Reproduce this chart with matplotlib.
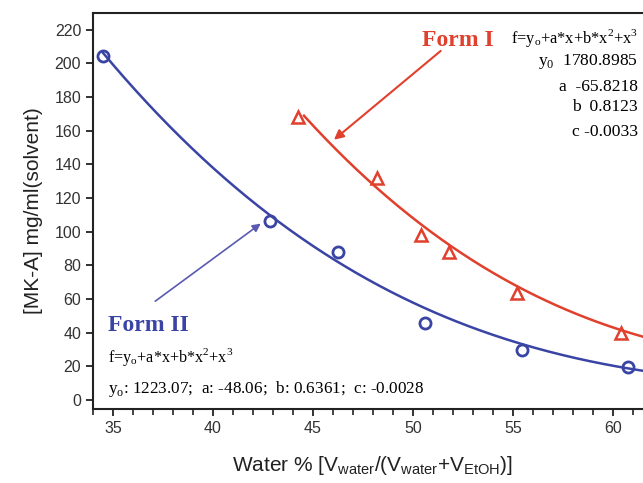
import numpy as np
import matplotlib.pyplot as plt
from matplotlib.ticker import MultipleLocator

plt.rcParams['mathtext.fontset'] = 'custom'
plt.rcParams['mathtext.rm'] = 'Liberation Serif'
plt.rcParams['mathtext.sf'] = 'Liberation Sans'

# Form II (circles)
water_II = [34.5, 42.85, 46.25, 50.6, 55.45, 60.75]
sol_II = [204.5, 106.4, 88.0, 45.8, 29.7, 19.6]

# Form I (triangles)
water_I = [44.25, 48.2, 50.4, 51.8, 55.2, 60.4]
sol_I = [168.3, 132.1, 98.1, 88.2, 63.8, 40.0]

# fit coefficients printed on the chart: y0, a, b, c
coef_I = [1780.8985, -65.8218, 0.8123, -0.0033]
coef_II = [1223.07, -48.06, 0.6361, -0.00282]

red = '#e0402c'
blue = '#3a44a4'

fig = plt.figure(figsize=(6.43, 4.83), dpi=100)
ax = fig.add_axes([93/643, 74/483, 560/643, 396/483])

def cubic(c, x):
    return c[0] + c[1]*x + c[2]*x**2 + c[3]*x**3

xf_I = np.linspace(water_I[0] + 0.3, 62, 200)
xf_II = np.linspace(water_II[0], 62, 200)
ax.plot(xf_II, cubic(coef_II, xf_II), color=blue, lw=1.8)
ax.plot(xf_I, cubic(coef_I, xf_I), color=red, lw=1.8)

ax.plot(water_II, sol_II, 'o', ms=8, mfc='none', mec=blue, mew=2)
ax.plot(water_I, sol_I, '^', ms=8, mfc='none', mec=red, mew=1.8)

ax.set_xlim(34, 62)
ax.set_ylim(-5.4, 230)
ax.set_yticks(np.arange(0, 221, 20))
ax.xaxis.set_major_locator(MultipleLocator(5))
ax.xaxis.set_minor_locator(MultipleLocator(1))
ax.spines['right'].set_visible(False)
for s in ['top', 'left', 'bottom']:
    ax.spines[s].set_linewidth(1.5)
    ax.spines[s].set_color('#222222')
ax.tick_params(which='major', length=5, width=1.3, color='#222222',
               labelsize=11.5, labelcolor='#333333')
ax.tick_params(which='minor', length=4, width=1.2, color='#222222')
for lab in ax.get_xticklabels() + ax.get_yticklabels():
    lab.set_fontfamily('Liberation Sans')

ax.set_ylabel('[MK-A] mg/ml(solvent)', fontsize=15, fontfamily='Liberation Sans',
              color='#222222', labelpad=8)
ax.set_xlabel(r'Water % [V$_\mathsf{water}$/(V$_\mathsf{water}$+V$_\mathsf{EtOH}$)]',
              fontsize=15, fontfamily='Liberation Sans', color='#222222', labelpad=13)

serif = 'Liberation Serif'
eq = r'f=y$_\mathrm{o}$+a*x+b*x$^\mathrm{2}$+x$^\mathrm{3}$'

# Form I labels
ax.text(50.45, 213.8, 'Form I', color=red, fontsize=17, fontweight='bold',
        fontfamily=serif, va='center')
ax.text(61.25, 215.2, eq, fontsize=11.8, fontfamily=serif, ha='right', va='center')
ax.text(61.25, 201, r'y$_\mathrm{0}$  1780.8985', fontsize=12.6, fontfamily=serif, ha='right', va='center')
ax.text(61.25, 186, 'a  -65.8218', fontsize=12.6, fontfamily=serif, ha='right', va='center')
ax.text(61.25, 174.2, 'b  0.8123', fontsize=12.6, fontfamily=serif, ha='right', va='center')
ax.text(61.25, 159.3, 'c -0.0033', fontsize=12.6, fontfamily=serif, ha='right', va='center')
ax.annotate('', xy=(45.94, 153.6), xytext=(51.49, 208.5),
            arrowprops=dict(arrowstyle='-|>', color=red, lw=1.5, mutation_scale=14))

# Form II labels
ax.text(34.75, 44.0, 'Form II', color=blue, fontsize=17, fontweight='bold',
        fontfamily=serif, va='center')
ax.text(34.75, 25.6, eq, fontsize=11.6, fontfamily=serif, va='center')
ax.text(34.75, 6.5, r'y$_\mathrm{o}$: 1223.07;  a: -48.06;  b: 0.6361;  c: -0.0028',
        fontsize=12.3, fontfamily=serif, va='center')
ax.annotate('', xy=(42.5, 105.8), xytext=(37.0, 57.7),
            arrowprops=dict(arrowstyle='-|>', color='#5a5ab0', lw=1.2, mutation_scale=12))

fig.savefig('out.png', dpi=100)
